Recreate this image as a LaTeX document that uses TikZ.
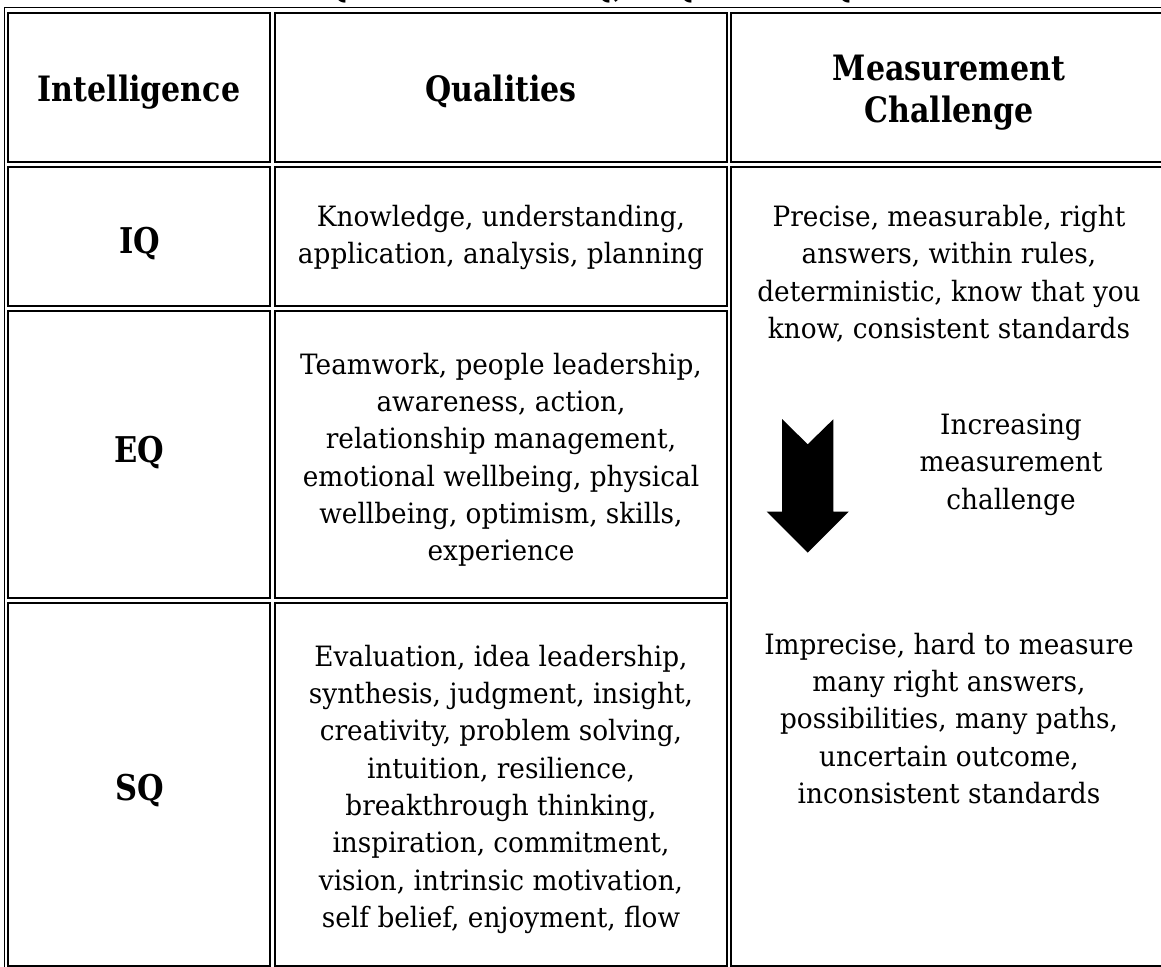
\documentclass[tikz,border=0pt]{standalone}
\usepackage{fontspec}
\setmainfont{DejaVu Serif}[FakeStretch=0.94, BoldFeatures={FakeStretch=0.86}]
\usetikzlibrary{fit}

\newcommand{\bodyfont}{\fontsize{21}{28}\selectfont}
\newcommand{\headfont}{\bfseries\fontsize{26.2}{31.5}\selectfont}
\newcommand{\qfont}{\bfseries\fontsize{26.6}{32}\selectfont}
\newcommand{\titlefont}{\bfseries\fontsize{31.5}{36}\selectfont}

\tikzset{
  cell/.style={draw, line width=1.4pt, inner sep=0pt},
  body/.style={font=\bodyfont, align=center, inner sep=0pt, anchor=north},
  head/.style={font=\headfont, align=center, inner sep=0pt},
  qname/.style={font=\qfont, inner sep=0pt, anchor=base},
}

\begin{document}
\begin{tikzpicture}[x=0.75pt, y=-0.75pt]
  \useasboundingbox (0,0) rectangle (1161,967);
  \fill[white] (0,0) rectangle (1161,967);
  \clip (0,0) rectangle (1161,967);
  % title, cut off at the top of the page
  \node[font=\titlefont, inner sep=0pt, anchor=base] (title) at (588,-4) {Qualities of IQ, EQ and SQ};
  % frame and cells
  \node[cell, fit={(4.5,7.5) (1173,970.5)}] (frame) {};
  \node[cell, fit={(8,13) (270,162)}] (hint) {};
  \node[cell, fit={(274.7,13) (726.7,162)}] (hqual) {};
  \node[cell, fit={(730.7,13) (1169,162)}] (hmeas) {};
  \node[cell, fit={(8,167) (270,306)}] (ciq) {};
  \node[cell, fit={(274.7,167) (726.7,306)}] (qiq) {};
  \node[cell, fit={(8,311) (270,598)}] (ceq) {};
  \node[cell, fit={(274.7,311) (726.7,598)}] (qeq) {};
  \node[cell, fit={(8,603) (270,966)}] (csq) {};
  \node[cell, fit={(274.7,603) (726.7,966)}] (qsq) {};
  \node[cell, fit={(730.7,167) (1169,966)}] (meas) {};
  % header
  \node[head, anchor=base] (tint) at (139,101.5) {Intelligence};
  \node[head, anchor=base] (tqual) at (501,101.5) {Qualities};
  \node[head, anchor=north] (tmeas) at (949,54.5) {Measurement\\Challenge};
  % first column
  \node[qname] (tiq) at (139.5,253) {IQ};
  \node[qname] (teq) at (139.5,462) {EQ};
  \node[qname] (tsq) at (139.5,800) {SQ};
  % qualities
  \node[body] (liq) at (501,205) {Knowledge, understanding,\\application, analysis, planning};
  \node[body] (leq) at (501,352.7) {Teamwork, people leadership,\\awareness, action,\\relationship management,\\emotional wellbeing, physical\\wellbeing, optimism, skills,\\experience};
  \node[body] (lsq) at (501,644.7) {Evaluation, idea leadership,\\synthesis, judgment, insight,\\creativity, problem solving,\\intuition, resilience,\\breakthrough thinking,\\inspiration, commitment,\\vision, intrinsic motivation,\\self belief, enjoyment, flow};
  % measurement challenge
  \node[body] (mtop) at (949,205) {Precise, measurable, right\\answers, within rules,\\deterministic, know that you\\know, consistent standards};
  \fill (782,419) -- (807.7,444.3) -- (833.3,419.3) -- (833.3,511.7) -- (848.7,511.7)
    -- (807.7,552.7) -- (766.7,511.7) -- (782,511.7) -- cycle;
  \node[body] (mmid) at (1011,413.5) {Increasing\\measurement\\challenge};
  \node[body] (mbot) at (949,632.7) {Imprecise, hard to measure\\many right answers,\\possibilities, many paths,\\uncertain outcome,\\inconsistent standards};
\end{tikzpicture}
\end{document}
